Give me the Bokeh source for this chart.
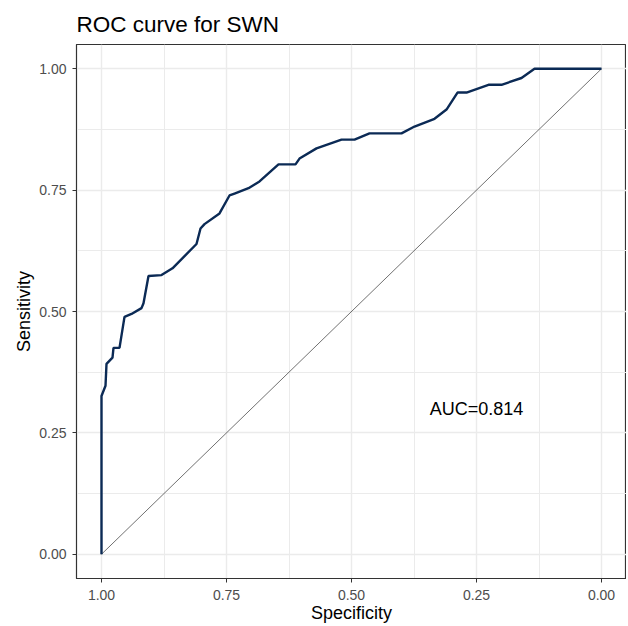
from bokeh.plotting import figure
from bokeh.models import Range1d, FixedTicker, NumeralTickFormatter
from bokeh.core.properties import value
from bokeh.embed import file_html
from bokeh.resources import INLINE

# ROC curve data
specificity = [1.000, 1.000, 0.992, 0.990, 0.978, 0.976, 0.964, 0.954, 0.940, 0.920,
               0.916, 0.906, 0.880, 0.858, 0.810, 0.802, 0.794, 0.764, 0.744, 0.734,
               0.706, 0.684, 0.646, 0.612, 0.604, 0.570, 0.520, 0.494, 0.464, 0.400,
               0.374, 0.334, 0.310, 0.288, 0.270, 0.226, 0.200, 0.160, 0.134, 0.000]
sensitivity = [0.000, 0.326, 0.347, 0.392, 0.405, 0.425, 0.425, 0.489, 0.495, 0.507,
               0.517, 0.573, 0.575, 0.589, 0.639, 0.671, 0.680, 0.702, 0.739, 0.743,
               0.754, 0.768, 0.803, 0.803, 0.815, 0.836, 0.854, 0.854, 0.867, 0.867,
               0.881, 0.897, 0.916, 0.951, 0.951, 0.967, 0.967, 0.981, 1.000, 1.000]
diag_x = [1.0, 0.0]
diag_y = [0.0, 1.0]
major_ticks = [0.0, 0.25, 0.5, 0.75, 1.0]
minor_ticks = [0.125, 0.375, 0.625, 0.875]
auc_label = "AUC=0.814"
auc_x = [0.25]
auc_y = [0.30]

FONT = "Liberation Sans"

p = figure(width=626, height=626, output_backend="svg", toolbar_location=None,
           x_range=Range1d(1.05, -0.05), y_range=Range1d(-0.05, 1.05),
           title="ROC curve for SWN",
           min_border_left=76, min_border_right=0, min_border_top=44, min_border_bottom=48)

p.title.text_font = FONT
p.title.text_font_size = "22.5px"
p.title.text_font_style = "normal"
p.title.text_color = "black"
p.title.align = "left"
p.title.offset = 0
p.title.standoff = 15

p.background_fill_color = "white"
p.border_fill_color = "white"
p.outline_line_color = "#333333"
p.outline_line_width = 1.2

for ax in (p.xaxis[0], p.yaxis[0]):
    ax.ticker = FixedTicker(ticks=major_ticks, minor_ticks=minor_ticks)
    ax.formatter = NumeralTickFormatter(format="0.00")
    ax.axis_line_color = "#333333"
    ax.major_tick_line_color = "#333333"
    ax.major_tick_in = 0
    ax.major_tick_out = 4
    ax.minor_tick_line_color = None
    ax.major_label_text_font = FONT
    ax.major_label_text_font_size = "14px"
    ax.major_label_text_color = "#4d4d4d"
    ax.axis_label_text_font = FONT
    ax.axis_label_text_font_size = "18px"
    ax.axis_label_text_font_style = "normal"
    ax.axis_label_text_color = "black"

p.xaxis.axis_label = "Specificity"
p.yaxis.axis_label = "Sensitivity"
p.xaxis.major_label_standoff = 7
p.yaxis.major_label_standoff = 6
p.xaxis.axis_label_standoff = 0
p.yaxis.axis_label_standoff = 2

for g in (p.xgrid[0], p.ygrid[0]):
    g.grid_line_color = "#ebebeb"
    g.grid_line_width = 1.4
    g.minor_grid_line_color = "#ebebeb"
    g.minor_grid_line_width = 1.0

p.line(diag_x, diag_y, line_color="#333333", line_width=0.7)
p.line(specificity, sensitivity, line_color="#0b2a55", line_width=2.4)
p.text(x=auc_x, y=auc_y, text=[auc_label], text_font=value(FONT), text_font_size="18px",
       text_align="center", text_baseline="middle", text_color="black")

open("out.html", "w").write(file_html(p, INLINE))
